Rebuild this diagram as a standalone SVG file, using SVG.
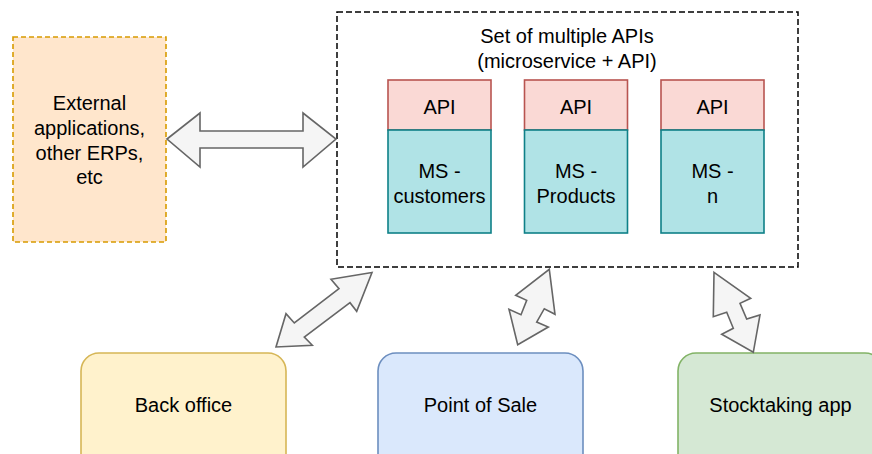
<svg xmlns="http://www.w3.org/2000/svg" width="872" height="454" viewBox="0 0 872 454">
<style>
text{font-family:"Liberation Sans",Arial,Helvetica,sans-serif;font-size:20px;fill:#000;text-anchor:middle}
.api{fill:#fad9d5;stroke:#b85450;stroke-width:1.6}
.ms{fill:#b0e3e6;stroke:#0e8088;stroke-width:1.6}
.arr{fill:#f5f5f5;stroke:#666666;stroke-width:1.6;stroke-linejoin:miter}
</style>
<rect width="872" height="454" fill="#ffffff"/>
<g id="external">
<rect x="13" y="37" width="153" height="205" fill="#ffe6cc" stroke="#d79b00" stroke-width="1.6" stroke-dasharray="5 3"/>
<text x="89.5" y="110">External</text>
<text x="89.5" y="135">applications,</text>
<text x="89.5" y="160">other ERPs,</text>
<text x="89.5" y="184">etc</text>
</g>
<g id="container">
<rect x="337" y="12" width="461" height="255" fill="none" stroke="#000" stroke-width="1.5" stroke-dasharray="6 3"/>
<text x="567" y="43">Set of multiple APIs</text>
<text x="567" y="68">(microservice + API)</text>
</g>
<g id="ms-customers">
<rect class="api" x="388" y="80" width="103" height="50"/>
<rect class="ms" x="388" y="130" width="103" height="103"/>
<text x="439.5" y="113.5">API</text>
<text x="439.5" y="177.5">MS -</text>
<text x="439.5" y="202.5">customers</text>
</g>
<g id="ms-products">
<rect class="api" x="524.5" y="80" width="103" height="50"/>
<rect class="ms" x="524.5" y="130" width="103" height="103"/>
<text x="576" y="113.5">API</text>
<text x="576" y="177.5">MS -</text>
<text x="576" y="202.5">Products</text>
</g>
<g id="ms-n">
<rect class="api" x="661" y="80" width="103" height="50"/>
<rect class="ms" x="661" y="130" width="103" height="103"/>
<text x="712.5" y="113.5">API</text>
<text x="712.5" y="177.5">MS -</text>
<text x="712.5" y="202.5">n</text>
</g>
<g id="back-office">
<rect x="81" y="353" width="205" height="120" rx="18" fill="#fff2cc" stroke="#d6b656" stroke-width="1.6"/>
<text x="183.5" y="412">Back office</text>
</g>
<g id="point-of-sale">
<rect x="378" y="353" width="205" height="120" rx="18" fill="#dae8fc" stroke="#6c8ebf" stroke-width="1.6"/>
<text x="480.5" y="412">Point of Sale</text>
</g>
<g id="stocktaking">
<rect x="678" y="353" width="205" height="120" rx="18" fill="#d5e8d4" stroke="#82b366" stroke-width="1.6"/>
<text x="780.5" y="412">Stocktaking app</text>
</g>
<g id="connectors">
<polygon class="arr" points="167,139 200,113 200,131 303,131 303,113 336,139 303,167 303,148 200,148 200,167"/>
<polygon class="arr" points="372,272.5 331,279.3 339,288.7 294.3,323 286,313.7 276,347 312.3,345.3 304.3,337 350,302.7 356.7,311.3"/>
<polygon class="arr" points="549.3,269.3 555,314.3 544.3,308.7 536.7,322 548.3,327 517.7,344.7 509,309.3 521,314.7 526.7,300.3 515.7,295.3"/>
<polygon class="arr" points="714,272.3 750.7,298.3 740,303.3 746.7,319 760,315 753.3,352.3 721.7,334.3 733.3,328.3 726.7,312.3 713.3,316.7"/>
</g>
</svg>
